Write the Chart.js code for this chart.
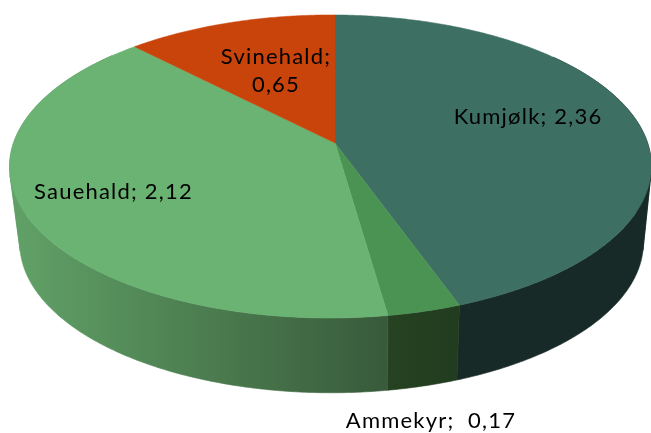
<!DOCTYPE html>
<html>
<head>
<meta charset="utf-8">
<style>html,body{margin:0;padding:0;background:#fff}canvas{display:block}</style>
<script src="https://cdn.jsdelivr.net/npm/chart.js@4"></script>
</head>
<body>
<canvas id="c" width="651" height="433"></canvas>
<script>
const categories = ["Kumjølk", "Ammekyr", "Sauehald", "Svinehald"];
const values = [2.36, 0.17, 2.12, 0.65];
const topColors = ["#3d6f63", "#4b9352", "#6ab373", "#c9440a"];
const sideLeft = ["#182a28", "#264221", "#60a066", "#782806"];
const sideRight = ["#182a28", "#223c1f", "#385a3a", "#782806"];
const labelLines = [["Kumjølk; 2,36"], ["Ammekyr;  0,17"], ["Sauehald; 2,12"], ["Svinehald;", "0,65"]];

// Perspective projection of the pie disc (unit circle -> page)
const topFace = {cx:335, ay:143, A:147.9, B:317, k:0.155, m:-0.014};
const botFace = {cx:336, ay:219.5, A:146.4, B:308, k:0.155, m:-0.014};
function project(f, t){
  const u = Math.sin(t), v = -Math.cos(t);
  const w = 1 - f.k*v - f.m*u;
  return [f.cx + f.B*u/w, f.ay + f.A*v/w];
}
const labelPos = [[528,117],[431,421],[113.5,192],[276,57]];
const lineGap = 28;
const deg = Math.PI/180;
const wallBands = [[50*deg,102*deg],[258*deg,310*deg],[102*deg,258*deg]];

const pie3d = {
  id:'pie3d',
  beforeDatasetsDraw(chart){
    const ctx = chart.ctx;
    const arcs = chart.getDatasetMeta(0).data;
    const slices = arcs.map((a,i)=>({s:a.startAngle+Math.PI/2, e:a.endAngle+Math.PI/2, i}));
    // side wall: each band sweeps one way, so it fills without cancelling
    slices.forEach(sl=>{
      const x0=project(botFace,sl.s)[0], x1=project(botFace,sl.e)[0];
      const left=Math.min(x0,x1,sl.s<270*deg&&sl.e>270*deg?20:x0), right=Math.max(x0,x1);
      const g=ctx.createLinearGradient(left,0,right,0);
      g.addColorStop(0,sideLeft[sl.i]);
      g.addColorStop(1,sideRight[sl.i]);
      wallBands.forEach(band=>{
        const a=Math.max(sl.s,band[0]), b=Math.min(sl.e,band[1]);
        if(b<=a) return;
        const n=Math.ceil((b-a)/(Math.PI/360));
        const pts=[], low=[];
        for(let j=0;j<=n;j++){
          const t=a+(b-a)*j/n;
          pts.push(project(topFace,t));
          low.unshift(project(botFace,t));
        }
        ctx.fillStyle=ctx.strokeStyle=g;
        ctx.lineWidth=0.6;
        ctx.beginPath();
        pts.concat(low).forEach((q,k)=>k?ctx.lineTo(q[0],q[1]):ctx.moveTo(q[0],q[1]));
        ctx.closePath();ctx.fill();ctx.stroke();
      });
    });
    // top face
    slices.forEach(sl=>{
      const col=chart.data.datasets[0].backgroundColor[sl.i];
      ctx.fillStyle=ctx.strokeStyle=col;
      ctx.lineWidth=0.5;
      ctx.beginPath();
      ctx.moveTo(topFace.cx,topFace.ay);
      const n=Math.ceil((sl.e-sl.s)/(Math.PI/360));
      for(let j=0;j<=n;j++){
        const q=project(topFace,sl.s+(sl.e-sl.s)*j/n);
        ctx.lineTo(q[0],q[1]);
      }
      ctx.closePath();ctx.fill();ctx.stroke();
    });
    // data labels
    ctx.fillStyle='#000';
    ctx.font='22px Lato';
    ctx.letterSpacing='1.2px';
    ctx.textAlign='center';
    ctx.textBaseline='middle';
    labelLines.forEach((lines,i)=>{
      lines.forEach((t,j)=>ctx.fillText(t,labelPos[i][0],labelPos[i][1]+j*lineGap));
    });
    return false;
  }
};

new Chart(document.getElementById('c'),{
  type:'pie',
  data:{labels:categories,datasets:[{data:values,backgroundColor:topColors,borderWidth:0}]},
  options:{
    responsive:false,
    animation:false,
    plugins:{legend:{display:false},tooltip:{enabled:false}}
  },
  plugins:[pie3d]
});
</script>
</body>
</html>
